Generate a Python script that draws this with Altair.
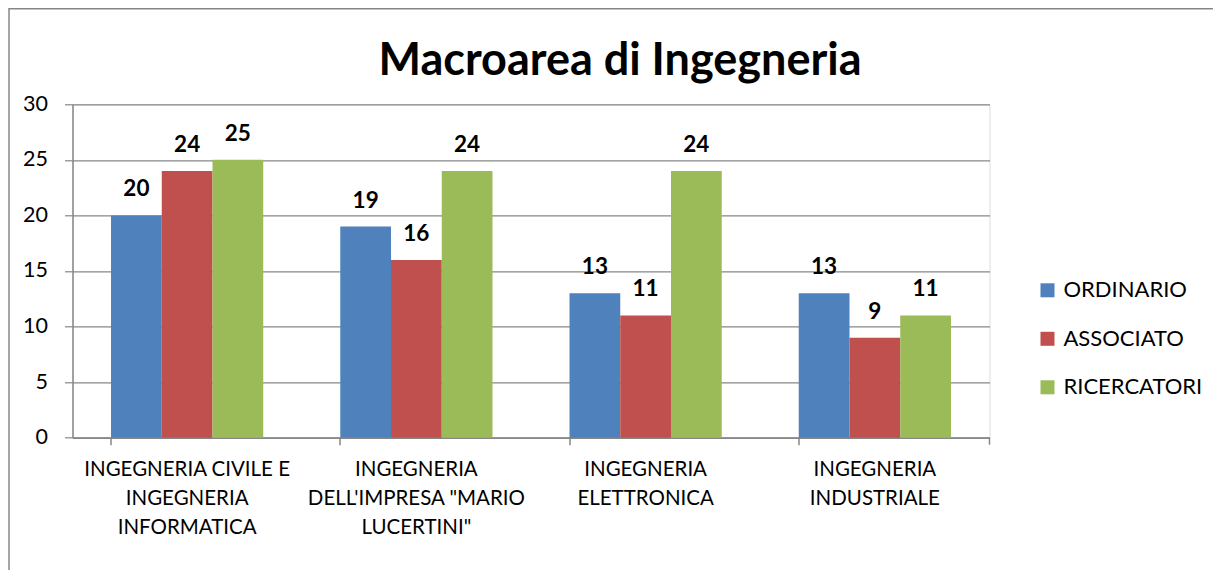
import json
import altair as alt
import pandas as pd

title_text = "Macroarea di Ingegneria"
categories = [
    "INGEGNERIA CIVILE E INGEGNERIA INFORMATICA",
    "INGEGNERIA DELL'IMPRESA \"MARIO LUCERTINI\"",
    "INGEGNERIA ELETTRONICA",
    "INGEGNERIA INDUSTRIALE",
]
label_lines = [
    ["INGEGNERIA CIVILE E", "INGEGNERIA", "INFORMATICA"],
    ["INGEGNERIA", "DELL'IMPRESA \"MARIO", "LUCERTINI\""],
    ["INGEGNERIA", "ELETTRONICA"],
    ["INGEGNERIA", "INDUSTRIALE"],
]
series = ["ORDINARIO", "ASSOCIATO", "RICERCATORI"]
ordinario = [20, 19, 13, 13]
associato = [24, 16, 11, 9]
ricercatori = [25, 24, 24, 11]
colors = ["#4F81BD", "#C0504D", "#9BBB59"]

rows = []
for s, vals in zip(series, [ordinario, associato, ricercatori]):
    for c, v in zip(categories, vals):
        rows.append({"cat": c, "serie": s, "val": v})
df = pd.DataFrame(rows)

label_map = json.dumps(dict(zip(categories, label_lines)))
FONT = "Lato"
GRAY = "#878787"
W, H = 917, 333.4

x_enc = alt.X(
    "cat:N", sort=categories, title=None,
    scale=alt.Scale(paddingInner=0.336, paddingOuter=0.168),
    axis=alt.Axis(
        labelExpr=label_map + "[datum.label]",
        labelAngle=0, labelFont=FONT, labelFontSize=20.5, labelColor="#000000",
        labelLineHeight=29, labelPadding=15, labelBaseline="top",
        tickSize=7, tickColor=GRAY, tickWidth=1.5, bandPosition=0,
        domainColor=GRAY, domainWidth=1.5, grid=False, labelLimit=300,
    ),
)
y_enc = alt.Y(
    "val:Q", title=None,
    scale=alt.Scale(domain=[0, 30], nice=False),
    axis=alt.Axis(
        values=[0, 5, 10, 15, 20, 25, 30], labelFont=FONT, labelFontSize=21.5,
        labelColor="#000000", labelPadding=17, tickSize=8, tickColor=GRAY,
        tickWidth=1.2, domainColor=GRAY, domainWidth=1.5, gridColor=GRAY,
        gridWidth=1.2,
    ),
)
xo = alt.XOffset("serie:N", sort=series, scale=alt.Scale(paddingInner=0, paddingOuter=0))

base = alt.Chart(df)
bars = base.mark_bar().encode(
    x=x_enc, y=y_enc, xOffset=xo,
    color=alt.Color(
        "serie:N", sort=series, scale=alt.Scale(domain=series, range=colors),
        legend=alt.Legend(
            title=None, orient="none", legendX=964, legendY=175,
            symbolType="square", symbolSize=196, symbolStrokeWidth=0,
            labelFont=FONT, labelFontSize=22, labelColor="#000000",
            rowPadding=26.5, labelOffset=5,
        ),
    ),
)
texts = base.mark_text(
    font=FONT, fontSize=22.5, fontWeight="bold", color="#000000",
    baseline="alphabetic", dy=-19,
).encode(x=alt.X("cat:N", sort=categories), y="val:Q", xOffset=xo, text="val:Q")

one = alt.Chart(pd.DataFrame({"k": [0]}))
title_mark = one.mark_text(
    text=title_text, font=FONT, fontSize=45, fontWeight="bold", color="#000000",
    align="center", baseline="alphabetic",
).encode(x=alt.value(547.5), y=alt.value(-29.3))
last_tick = one.mark_rule(color=GRAY, strokeWidth=1.5).encode(
    x=alt.value(W), y=alt.value(H), y2=alt.value(H + 7)
)
frame_top = one.mark_rule(color=GRAY, strokeWidth=1.5).encode(
    x=alt.value(-64), x2=alt.value(1200), y=alt.value(-95.5)
)
frame_left = one.mark_rule(color=GRAY, strokeWidth=1.5).encode(
    x=alt.value(-63.5), y=alt.value(-96), y2=alt.value(600)
)

chart = alt.layer(bars, texts, title_mark, last_tick, frame_top, frame_left).properties(
    width=W, height=H,
    autosize=alt.AutoSizeParams(type="none"),
    padding={"left": 64.5, "top": 96.3, "right": 223, "bottom": 132},
).configure_view(stroke=None).configure(background="white")

chart.save("out.html", embed_options={"renderer": "svg", "actions": False})
